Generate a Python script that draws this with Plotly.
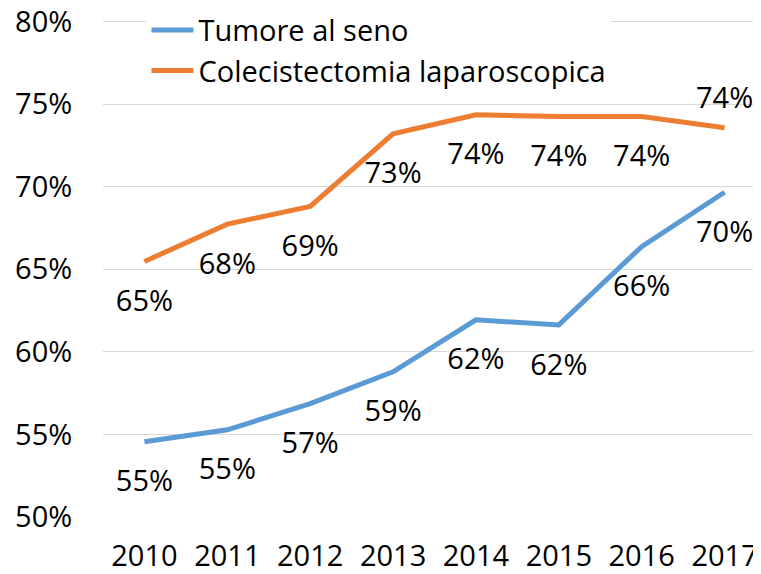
import plotly.graph_objects as go

# dati (percentuali)
anni = ["2010", "2011", "2012", "2013", "2014", "2015", "2016", "2017"]
tumore_seno = [54.56, 55.28, 56.86, 58.79, 61.94, 61.63, 66.37, 69.66]
colecistectomia = [65.47, 67.73, 68.80, 73.20, 74.35, 74.25, 74.25, 73.57]
tick_y = [50, 55, 60, 65, 70, 75, 80]

BLU = "#5B9BD5"
ARANCIO = "#ED7D31"
FONT = "Open Sans"
SIZE = 29

fig = go.Figure()
fig.add_trace(go.Scatter(x=anni, y=tumore_seno, mode="lines", name="Tumore al seno",
                         line=dict(color=BLU, width=5)))
fig.add_trace(go.Scatter(x=anni, y=colecistectomia, mode="lines", name="Colecistectomia laparoscopica",
                         line=dict(color=ARANCIO, width=5)))

# etichette dei valori: marker invisibili per distanziare il testo dalla linea
for n, serie in enumerate((tumore_seno, colecistectomia)):
    pos = ["bottom center"] * len(anni)
    dim = [43] * len(anni)
    if n == 1:
        pos[-1] = "top center"
        dim[-1] = 18
    fig.add_trace(go.Scatter(
        x=anni, y=serie, mode="markers+text", showlegend=False, hoverinfo="skip",
        text=[f"{round(v)}%" for v in serie], textposition=pos,
        textfont=dict(family=FONT, size=SIZE, color="#000000"),
        marker=dict(size=dim, opacity=0), cliponaxis=False,
    ))

fig.update_layout(
    width=761, height=574,
    margin=dict(l=95, r=8, t=11, b=65, autoexpand=False),
    paper_bgcolor="white", plot_bgcolor="white",
    font=dict(family=FONT, size=SIZE, color="#000000"),
    showlegend=True,
    legend=dict(x=0.066, y=1.029, xanchor="left", yanchor="top",
                bgcolor="white", font=dict(size=SIZE), tracegroupgap=0,
                itemwidth=42),
)
fig.update_xaxes(type="category", range=[-0.5, 7.44], showgrid=False, zeroline=False,
                 showline=False, ticks="outside", ticklen=13, tickcolor="rgba(0,0,0,0)")
fig.update_yaxes(range=[50, 80.15], tickvals=tick_y, ticktext=[f"{t}%" for t in tick_y],
                 showgrid=True, gridcolor="#D9D9D9", gridwidth=1.3, zeroline=False,
                 showline=False, ticks="outside", ticklen=24, tickcolor="rgba(0,0,0,0)",
                 ticklabeloverflow="allow")

fig.write_html("out.html")
